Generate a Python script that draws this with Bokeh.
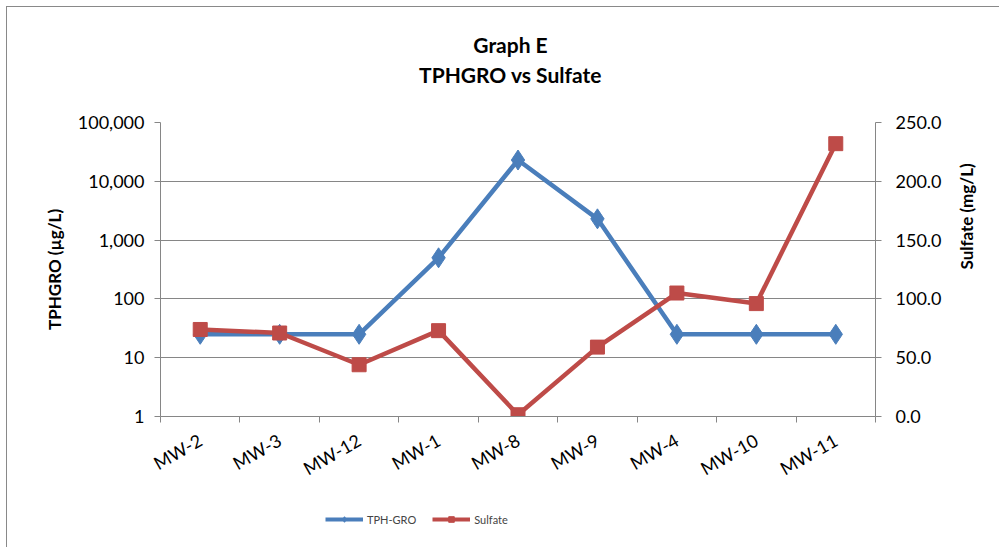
import math
from bokeh.plotting import figure
from bokeh.layouts import column
from bokeh.models import (Range1d, LinearAxis, FixedTicker, NumeralTickFormatter,
                          Legend, LegendItem, Label, ColumnDataSource, LinearScale)
from bokeh.embed import file_html
from bokeh.resources import INLINE

wells = ["MW-2", "MW-3", "MW-12", "MW-1", "MW-8", "MW-9", "MW-4", "MW-10", "MW-11"]
tph_gro = [25, 25, 25, 500, 23000, 2300, 25, 25, 25]
sulfate = [74, 71, 44, 73, 1.5, 59, 105, 96, 232]
left_ticks = [1, 10, 100, 1000, 10000, 100000]
right_ticks = [0, 50, 100, 150, 200, 250]
title_lines = ["Graph E", "TPHGRO vs Sulfate"]

FONT = "Lato"
BLUE = "#4A7EBB"
RED = "#BE4B48"
GRAY = "#868686"
W = 992
BL, BR = 153, 124

xs = list(range(1, len(wells) + 1))
bounds = [i + 0.5 for i in range(len(wells) + 1)]
src = ColumnDataSource(dict(x=xs, tph=tph_gro, sul=sulfate))


def strip(h):
    f = figure(width=W, height=h, output_backend="svg", toolbar_location=None,
               x_range=Range1d(0, 715), y_range=Range1d(0, h),
               min_border_left=BL, min_border_right=BR, min_border_top=0, min_border_bottom=0)
    f.title_location = None
    f.axis.visible = False
    f.grid.visible = False
    f.outline_line_color = None
    f.border_fill_color = "white"
    return f


# title strip
pt = strip(103)
pt.add_layout(Label(x=350, y=66, text=title_lines[0], text_align="center", text_baseline="middle",
                    text_font=FONT, text_font_size="21px", text_font_style="bold", text_color="black"))
pt.add_layout(Label(x=350, y=36, text=title_lines[1], text_align="center", text_baseline="middle",
                    text_font=FONT, text_font_size="21px", text_font_style="bold", text_color="black"))

# main chart
p = figure(width=W, height=392, output_backend="svg", toolbar_location=None,
           y_axis_type="log", x_range=Range1d(0.5, len(wells) + 0.5),
           y_range=Range1d(left_ticks[0], left_ticks[-1]),
           min_border_left=BL, min_border_right=BR, min_border_top=12, min_border_bottom=86)
p.title_location = None
p.outline_line_color = None
p.background_fill_color = "white"
p.border_fill_color = "white"

p.extra_y_ranges = {"sul": Range1d(right_ticks[0], right_ticks[-1])}
p.extra_y_scales = {"sul": LinearScale()}

p.xgrid.visible = False
p.ygrid.ticker = FixedTicker(ticks=left_ticks)
p.ygrid.grid_line_color = GRAY
p.ygrid.grid_line_width = 1

ya = p.yaxis[0]
ya.ticker = FixedTicker(ticks=left_ticks)
ya.formatter = NumeralTickFormatter(format="0,0")
ya.axis_label = "TPHGRO (µg/L)"

ra = LinearAxis(y_range_name="sul", ticker=FixedTicker(ticks=right_ticks),
                formatter=NumeralTickFormatter(format="0.0"), axis_label="Sulfate (mg/L)")
ra.axis_label_orientation = math.pi / 2
p.add_layout(ra, "right")

xa = p.xaxis[0]
xa.ticker = FixedTicker(ticks=xs, minor_ticks=bounds)
xa.major_label_overrides = {x: w for x, w in zip(xs, wells)}
xa.major_label_orientation = 0.52
xa.major_label_standoff = 16
xa.major_tick_line_color = None
xa.minor_tick_in = 0
xa.minor_tick_out = 6
xa.minor_tick_line_color = GRAY

for ax in [ya, ra, xa]:
    ax.axis_line_color = GRAY
    ax.major_label_text_font = FONT
    ax.major_label_text_font_size = "18px"
    ax.major_label_text_color = "black"
    ax.axis_label_text_font = FONT
    ax.axis_label_text_font_size = "17px"
    ax.axis_label_text_font_style = "bold"
    ax.axis_label_text_color = "black"
for ax in [ya, ra]:
    ax.major_tick_in = 0
    ax.major_tick_out = 6
    ax.major_tick_line_color = GRAY
    ax.minor_tick_line_color = None
ya.major_label_standoff = 10
ra.major_label_standoff = 14
ya.axis_label_standoff = 10
ra.axis_label_standoff = 22

p.line("x", "tph", source=src, line_color=BLUE, line_width=4.5)
p.scatter("x", "tph", source=src, marker="diamond", size=20, fill_color=BLUE, line_color=BLUE)
p.line("x", "sul", source=src, y_range_name="sul", line_color=RED, line_width=4.5)
p.scatter("x", "sul", source=src, y_range_name="sul", marker="square", size=14,
          fill_color=RED, line_color=RED)

# legend strip (its series renderers lie outside the strip's visible range)
pl = strip(45)
pl.x_range = Range1d(-100, -99)
e1 = pl.line("x", "tph", source=src, line_color=BLUE, line_width=4)
e1s = pl.scatter("x", "tph", source=src, marker="diamond", size=12, fill_color=BLUE, line_color=BLUE)
e2 = pl.line("x", "sul", source=src, line_color=RED, line_width=4)
e2s = pl.scatter("x", "sul", source=src, marker="square", size=10, fill_color=RED, line_color=RED)
legend = Legend(items=[LegendItem(label="TPH-GRO", renderers=[e1, e1s]),
                       LegendItem(label="Sulfate", renderers=[e2, e2s])],
                orientation="horizontal", location=(165, 21), margin=0, padding=5,
                border_line_color=None, background_fill_alpha=0,
                label_text_font=FONT, label_text_font_size="11px",
                glyph_width=38, glyph_height=14, spacing=16, label_standoff=4)
pl.add_layout(legend)

layout = column(pt, p, pl, spacing=0,
                styles={"border-top": "1px solid #898989", "border-left": "1px solid #898989",
                        "margin-left": "6px", "margin-top": "6px"})

open("out.html", "w").write(file_html(layout, INLINE))
